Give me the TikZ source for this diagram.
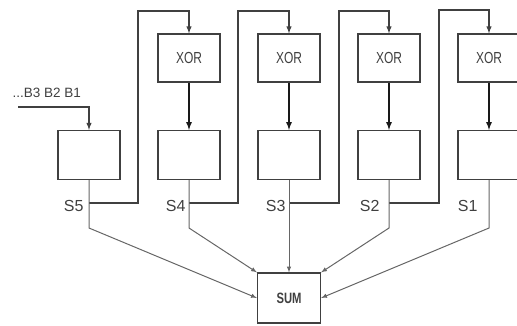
\documentclass[tikz,border=0pt]{standalone}
\usepackage{fontspec}
\setmainfont{Liberation Sans}
\newfontfamily\narrowfont[FakeStretch=0.75]{Liberation Sans}
\usetikzlibrary{positioning}

\begin{document}
\begin{tikzpicture}[
        x = 1pt, y = -1pt,
        on grid,
        node distance = 97pt and 100pt,
        -latex,
        color = black!75,
        line width = 1.2pt,
        reg/.style = {rectangle, draw, minimum width = 62pt, minimum height = 49pt, inner sep = 0pt},
        gate/.style = {reg, minimum height = 48pt, font = \narrowfont\fontsize{16}{16}\selectfont},
        total/.style = {reg, minimum width = 63pt, minimum height = 50pt, font = \narrowfont\bfseries\fontsize{15}{15}\selectfont},
        tag/.style = {inner sep = 0pt, yshift = -3pt, font = \fontsize{16}{16}\selectfont},
        feed/.style = {black!75, line width = 1.4pt},
        sumline/.style = {black!60, line width = 1pt}]

      \clip (0,0) rectangle (517,325);

      %shift register cells
      \node[reg] (Reg5) at (89,155) {};
      \node[reg] (Reg4) [right = of Reg5] {};
      \node[reg] (Reg3) [right = of Reg4] {};
      \node[reg] (Reg2) [right = of Reg3] {};
      \node[reg] (Reg1) [right = of Reg2] {};

      %xor gates
      \node[gate] (Xor4) [above = of Reg4] {XOR};
      \node[gate] (Xor3) [above = of Reg3] {XOR};
      \node[gate] (Xor2) [above = of Reg2] {XOR};
      \node[gate] (Xor1) [above = of Reg1] {XOR};

      %sum
      \node[total] (Sum) [below = 143pt of Reg3] {SUM};

      %input
      \coordinate[above left = 48pt and 71pt of Reg5] (In);
      \node[inner sep = 0pt, font = \fontsize{13.5}{13.5}\selectfont] (InLabel) [above right = 9pt and -6pt of In, anchor = south west] {...B3 B2 B1};

      %taps, bends and loops
      \coordinate[below = 48pt of Reg5] (Tap5);
      \coordinate[below = 48pt of Reg4] (Tap4);
      \coordinate[below = 48pt of Reg3] (Tap3);
      \coordinate[below = 48pt of Reg2] (Tap2);
      \coordinate[below = 48pt of Reg1] (Tap1);
      \coordinate[below = 73pt of Reg5] (Bend5);
      \coordinate[below = 73pt of Reg4] (Bend4);
      \coordinate[below = 73pt of Reg2] (Bend2);
      \coordinate[below = 73pt of Reg1] (Bend1);
      \coordinate[above right = 144pt and 49pt of Reg5] (Loop5);
      \coordinate[above right = 144pt and 49pt of Reg4] (Loop4);
      \coordinate[above right = 144pt and 50pt of Reg3] (Loop3);
      \coordinate[above right = 145pt and 50pt of Reg2] (Loop2);

      %stage labels
      \node[tag] (S5) [left = 5pt of Tap5, anchor = east] {S5};
      \node[tag] (S4) [left = 3pt of Tap4, anchor = east] {S4};
      \node[tag] (S3) [left = 3pt of Tap3, anchor = east] {S3};
      \node[tag] (S2) [left = 9pt of Tap2, anchor = east] {S2};
      \node[tag] (S1) [left = 11pt of Tap1, anchor = east] {S1};

      % input to first cell
      \draw[feed] (In) -| (Reg5);

      % xor into cells
      \draw[black!90, line width = 1.7pt] (Xor4) -- (Reg4);
      \draw[black!90, line width = 1.7pt] (Xor3) -- (Reg3);
      \draw[black!90, line width = 1.7pt] (Xor2) -- (Reg2);
      \draw[black!90, line width = 1.7pt] (Xor1) -- (Reg1);

      % feedback loops
      \draw[feed] (Tap5) -| (Loop5) -| (Xor4);
      \draw[feed] (Tap4) -| (Loop4) -| (Xor3);
      \draw[feed] (Tap3) -| (Loop3) -| (Xor2);
      \draw[feed] (Tap2) -| (Loop2) -| (Xor1);

      % outputs to sum
      \draw[sumline] (Reg5) -- (Bend5) -- (Sum.west);
      \draw[sumline] (Reg4) -- (Bend4) -- (Sum.north west);
      \draw[sumline] (Reg3) -- (Sum);
      \draw[sumline] (Reg2) -- (Bend2) -- (Sum.north east);
      \draw[sumline] (Reg1) -- (Bend1) -- (Sum.east);
    \end{tikzpicture}
\end{document}
